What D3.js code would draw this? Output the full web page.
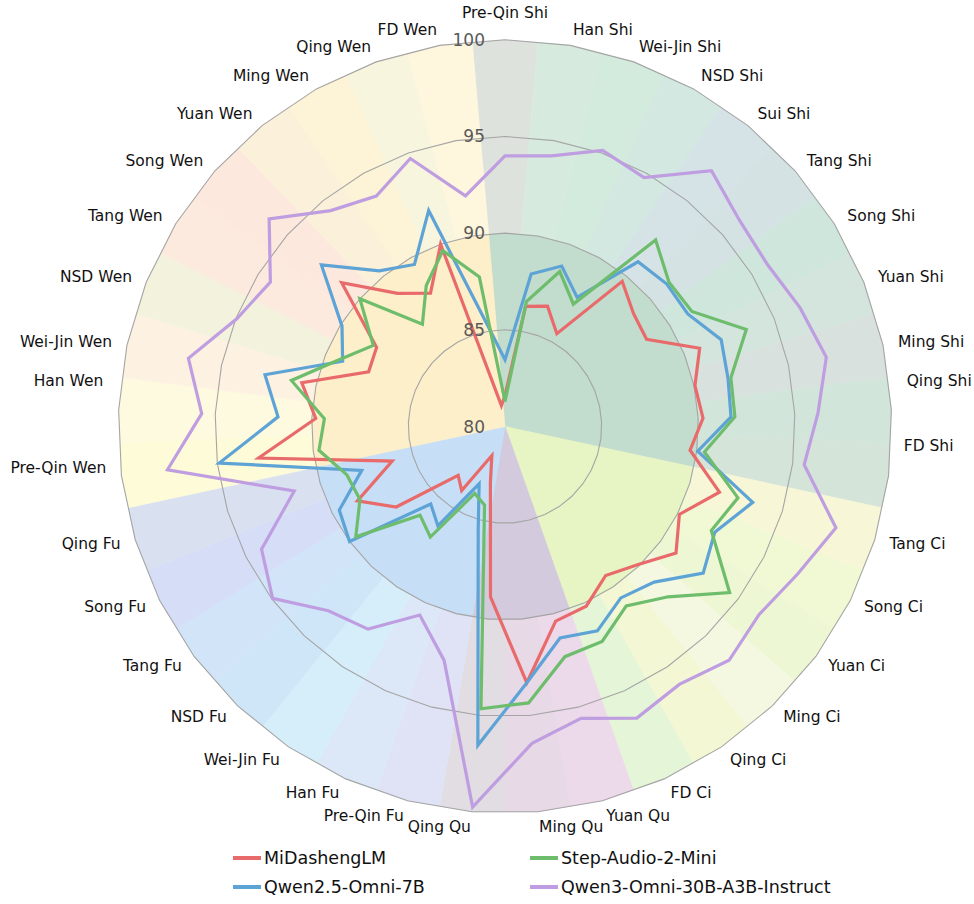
<!DOCTYPE html>
<html>
<head>
<meta charset="utf-8">
<script src="https://cdn.jsdelivr.net/npm/d3@7"></script>
<style>
  html, body { margin: 0; padding: 0; background: #ffffff; }
  svg { display: block; }
  text { font-family: "DejaVu Sans", sans-serif; }
</style>
</head>
<body>
<svg id="chart" width="974" height="904"></svg>
<script>
// ---------------- data ----------------
const categories = [
  "Pre-Qin Shi","Han Shi","Wei-Jin Shi","NSD Shi","Sui Shi","Tang Shi","Song Shi","Yuan Shi","Ming Shi","Qing Shi","FD Shi",
  "Tang Ci","Song Ci","Yuan Ci","Ming Ci","Qing Ci","FD Ci",
  "Yuan Qu","Ming Qu","Qing Qu",
  "Pre-Qin Fu","Han Fu","Wei-Jin Fu","NSD Fu","Tang Fu","Song Fu","Qing Fu",
  "Pre-Qin Wen","Han Wen","Wei-Jin Wen","NSD Wen","Tang Wen","Song Wen","Yuan Wen","Ming Wen","Qing Wen","FD Wen"
];
const seriesNames = ["MiDashengLM","Qwen2.5-Omni-7B","Step-Audio-2-Mini","Qwen3-Omni-30B-A3B-Instruct"];

const miDashengLM = [
  81.6, 86.3, 86.6, 85.5, 89.65, 88.85, 88.6, 90.85, 90.05, 90.25, 89.65,
  91.6, 90.1, 91.0, 89.9, 89.3, 90.2,
  90.4, 93.3, 88.85,
  83.0, 81.65, 84.0, 83.5, 87.0, 88.55, 86.1,
  92.85, 89.8, 90.75, 87.6, 87.8, 91.25, 88.85, 87.9, 90.0, 81.1
];
const qwen25Omni = [
  83.45, 88.0, 88.8, 87.65, 90.95, 91.15, 91.1, 92.05, 91.8, 91.7, 90.05,
  93.4, 92.15, 92.75, 91.15, 90.7, 91.6,
  91.3, 93.3, 96.55,
  85.5, 83.25, 86.2, 85.55, 90.0, 89.6, 87.75,
  94.9, 91.75, 92.7, 89.05, 89.9, 92.65, 90.35, 89.6, 91.85, 85.3
];
const stepAudio2Mini = [
  81.3, 86.55, 88.5, 87.25, 92.4, 91.3, 91.35, 93.45, 91.95, 91.9, 90.4,
  92.6, 91.95, 94.45, 92.2, 91.2, 92.2,
  92.3, 94.35, 94.65,
  84.2, 83.8, 86.9, 86.35, 89.6, 88.4, 88.55,
  89.7, 89.35, 91.3, 89.25, 88.0, 90.0, 86.8, 88.35, 89.65, 87.85
];
const qwen3Omni = [
  94.0, 94.2, 95.15, 94.75, 97.0, 96.15, 95.95, 96.45, 97.0, 96.2, 95.6,
  97.9, 96.95, 96.35, 96.75, 96.1, 96.55,
  95.6, 96.45, 99.75,
  92.5, 90.7, 92.65, 93.2, 94.95, 94.1, 91.4,
  97.6, 95.7, 96.75, 94.95, 94.25, 96.25, 94.35, 93.65, 94.7, 92.1
];
const radialTicks = [80, 85, 90, 95, 100];

// ---------------- styles ----------------
const seriesColors = ["#e96a6b", "#5da3d6", "#6dbd6c", "#bf9de1"];
const groupNames = ["Shi", "Ci", "Qu", "Fu", "Wen"];
const groupInnerColors = { Shi: "#c2dccd", Ci: "#e7f5c4", Qu: "#d3cadd", Fu: "#c6dff7", Wen: "#fdefc9" };
const categoryColors = [
  "#dde3dc","#d6ebdd","#d3ebdd","#d3e8e0","#d5e3e6","#d4e2e3","#cfe6dc","#d3e5dd","#d8e1de","#d2e5da","#d4e4d8",
  "#f7f6d6","#f1f9d4","#eef7d4","#f4f8e0","#f3f7d4","#e5f5d7",
  "#ecd9ea","#e7d9e6","#e1dde2",
  "#dfe3f5","#dce8f8","#d6eefa","#cfe6f8","#d1e4f8","#d6ddf7","#d9e1f1",
  "#fefbd9","#fefadf","#fdf1e2","#f3f2dc","#fdeade","#fde8dd","#fbf0d9","#fdf3d6","#f7f5dd","#fef7de"
];
// small vertical nudges for a few category labels (layout only)
const labelNudge = { "Pre-Qin Shi": -12, "Qing Shi": -28, "FD Shi": -32, "Han Wen": -28, "Pre-Qin Wen": -10 };

// ---------------- layout ----------------
const svg = d3.select("#chart");
const cx = 505, cy = 426.5;
const R = 386.7;
const n = categories.length;
const step = 2 * Math.PI / n;
const rScale = d3.scaleLinear().domain([80, 100]).range([0, R]);
const angle = i => i * step;

const g = svg.append("g").attr("transform", `translate(${cx},${cy})`);

const radial = d3.lineRadial().angle(d => d[0]).radius(d => d[1]).curve(d3.curveLinearClosed);

const groupOf = c => c.split(" ").pop();

// outer per-category wedges
const half = step / 2;
g.append("g").selectAll("path").data(categories).join("path")
  .attr("d", (c, i) => radial([
    [0, 0],
    [angle(i) - half, R * Math.cos(half)],
    [angle(i), R],
    [angle(i) + half, R * Math.cos(half)]
  ]))
  .attr("fill", (c, i) => categoryColors[i])
  .attr("stroke", (c, i) => categoryColors[i])
  .attr("stroke-width", 0.6);

// inner group wedges (inside the 90 ring)
const r90 = rScale(90);
const groupSpans = groupNames.map(name => {
  const idx = categories.map((c, i) => groupOf(c) === name ? i : -1).filter(i => i >= 0);
  return { name, s: d3.min(idx), e: d3.max(idx) };
});
g.append("g").selectAll("path").data(groupSpans).join("path")
  .attr("d", sp => {
    const pts = [[0, 0], [angle(sp.s) - half, r90 * Math.cos(half)]];
    for (let i = sp.s; i <= sp.e; i++) pts.push([angle(i), r90]);
    pts.push([angle(sp.e) + half, r90 * Math.cos(half)]);
    return radial(pts);
  })
  .attr("fill", sp => groupInnerColors[sp.name])
  .attr("stroke", sp => groupInnerColors[sp.name])
  .attr("stroke-width", 0.6);

// grid polygons
g.append("g").selectAll("path").data(radialTicks.filter(t => t > 80)).join("path")
  .attr("d", t => radial(categories.map((c, i) => [angle(i), rScale(t)])))
  .attr("fill", "none")
  .attr("stroke", "#a5a5a5")
  .attr("stroke-width", 1.1);

// data lines
const allSeries = [miDashengLM, qwen25Omni, stepAudio2Mini, qwen3Omni];
const lineGen = d3.lineRadial()
  .angle((d, i) => angle(i))
  .radius(d => rScale(d))
  .curve(d3.curveLinearClosed);
g.append("g").selectAll("path").data(allSeries).join("path")
  .attr("d", d => lineGen(d))
  .attr("fill", "none")
  .attr("stroke", (d, i) => seriesColors[i])
  .attr("stroke-width", 3.2)
  .attr("stroke-linejoin", "miter");

// radial tick labels
g.append("g").selectAll("text").data(radialTicks).join("text")
  .attr("x", -20)
  .attr("y", t => -rScale(t))
  .attr("text-anchor", "end")
  .attr("dominant-baseline", "central")
  .attr("fill", "#5a5a5a")
  .attr("font-size", 17)
  .text(t => t);

// category labels
const labelR = 402;
g.append("g").selectAll("text").data(categories).join("text")
  .attr("x", (c, i) => labelR * Math.sin(angle(i)))
  .attr("y", (c, i) => -labelR * Math.cos(angle(i)) + (labelNudge[c] || 0))
  .attr("text-anchor", (c, i) => {
    const s = Math.sin(angle(i));
    return s > 0.05 ? "start" : (s < -0.05 ? "end" : "middle");
  })
  .attr("dominant-baseline", "central")
  .attr("fill", "#111")
  .attr("font-size", 15.5)
  .text(c => c);

// legend
const legendItems = [
  { name: seriesNames[0], color: seriesColors[0], x: 233, y: 858 },
  { name: seriesNames[2], color: seriesColors[2], x: 530, y: 858 },
  { name: seriesNames[1], color: seriesColors[1], x: 233, y: 887 },
  { name: seriesNames[3], color: seriesColors[3], x: 530, y: 887 }
];
const lg = svg.append("g").selectAll("g").data(legendItems).join("g")
  .attr("transform", d => `translate(${d.x},${d.y})`);
lg.append("line").attr("x1", 0).attr("x2", 28).attr("y1", 0).attr("y2", 0)
  .attr("stroke", d => d.color).attr("stroke-width", 4);
lg.append("text").attr("x", 31).attr("y", 0).attr("dominant-baseline", "central")
  .attr("font-size", 17.5).attr("fill", "#111").text(d => d.name);
</script>
</body>
</html>
